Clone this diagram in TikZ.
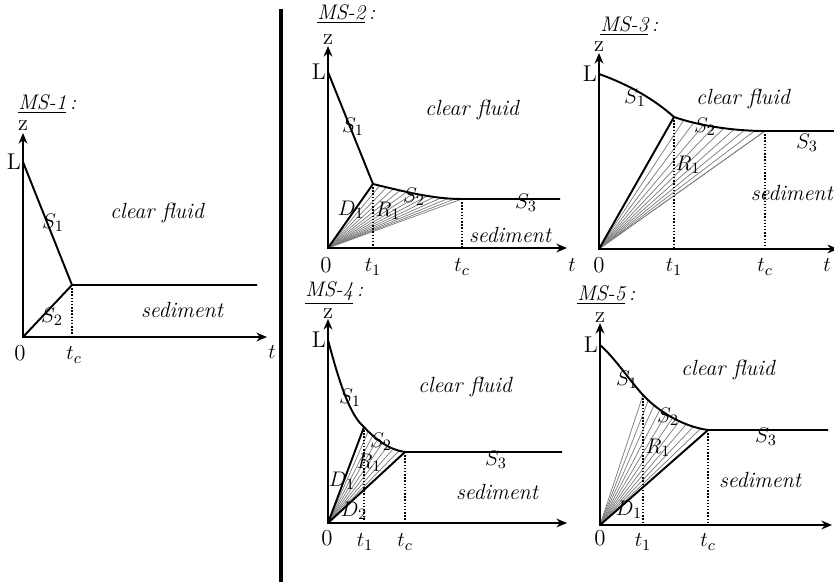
\documentclass[tikz,border=0pt]{standalone}
\usepackage{amsmath}
\usepackage{tikz}
\usetikzlibrary{arrows.meta,decorations.markings}
\definecolor{fanline}{HTML}{7A7A7A}

\begin{document}
\begin{tikzpicture}[x=0.02cm,y=-0.02cm,
  axis/.style={line width=1.6pt,{Stealth[length=6pt,width=5pt]}-{Stealth[length=6pt,width=5pt]}},
  front/.style={line width=1.1pt},
  fan/.style={fanline,line width=0.4pt},
  guide/.style={densely dotted,line width=0.8pt},
  lbl/.style={inner sep=1pt,font=\fontsize{13}{15}\selectfont},
  region/.style={font=\fontsize{12.5}{14}\selectfont\itshape},
  title/.style={anchor=base west,inner sep=0pt,font=\fontsize{12}{14}\selectfont\itshape},
  fanto/.style 2 args={postaction={decorate},
    decoration={markings,mark=between positions 0 and 1 step #2 with {\draw[fan] (0,0) -- (#1);}}}]
  \useasboundingbox (0,0) rectangle (834,582);
  \draw[line width=2.3pt] (281,9) coordinate (sepa) -- (281,582) coordinate (sepb);

  \coordinate (z1) at (23,133); \coordinate (o1) at (23,337); \coordinate (t1) at (267,337);
  \coordinate (l1) at (23,162); \coordinate (c1) at (72,285); \coordinate (e1) at (257,285);
  \draw[guide] (c1) -- (c1|-o1);
  \draw[front] (l1) -- (c1) -- (e1);
  \draw[front] (o1) -- (c1);
  \draw[axis] (z1) |- (t1);
  \node[title] (ms1) at (18,109) {\underline{MS-1}\,:};
  \node[lbl] (za) at (23,126) {z};
  \node[lbl,left] (la) at (l1) {L};
  \node[lbl] (oa) at (20,353) {0};
  \node[lbl] (tca) at (74,355) {$t_c$};
  \node[lbl] (ta) at (272,352) {$t$};
  \node[lbl] (s1a) at (53,223) {$S_1$};
  \node[lbl] (s2a) at (52,317) {$S_2$};
  \node[region] (cfa) at (157,213) {clear fluid};
  \node[region] (sda) at (182,310) {sediment};

  \coordinate (z2) at (328,46); \coordinate (o2) at (328,248); \coordinate (t2) at (567,248);
  \coordinate (l2) at (328,72); \coordinate (b2) at (373,184); \coordinate (c2) at (462,199); \coordinate (e2) at (560,199);
  \path[fanto={o2}{0.077}] (b2) .. controls (410,193) and (435,199) .. (c2);
  \draw[fan] (o2) -- (c2);
  \draw[guide] (b2) -- (b2|-o2); \draw[guide] (c2) -- (c2|-o2);
  \draw[front] (l2) -- (b2) .. controls (410,193) and (435,199) .. (c2) -- (e2);
  \draw[front] (o2) -- (b2);
  \draw[axis] (z2) |- (t2);
  \node[title] (ms2) at (317,19) {\underline{MS-2}\,:};
  \node[lbl] (zb) at (328,40) {z};
  \node[lbl,left] (lb) at (l2) {L};
  \node[lbl] (ob) at (326,265) {0};
  \node[lbl] (t1b) at (373,267) {$t_1$};
  \node[lbl] (tcb) at (462,267) {$t_c$};
  \node[lbl] (tb) at (572,265) {$t$};
  \node[lbl] (s1b) at (353,127) {$S_1$};
  \node[lbl] (s2b) at (414,197) {$S_2$};
  \node[lbl] (s3b) at (526,203) {$S_3$};
  \node[lbl] (d1b) at (351,210) {$D_1$};
  \node[lbl] (r1b) at (388,211) {$R_1$};
  \node[region] (cfb) at (472,110) {clear fluid};
  \node[region] (sdb) at (510,235) {sediment};

  \coordinate (z3) at (599,53); \coordinate (o3) at (599,249); \coordinate (t3) at (838,249);
  \coordinate (l3) at (599,74); \coordinate (b3) at (674,117); \coordinate (c3) at (765,131); \coordinate (e3) at (834,131);
  \path[fanto={o3}{0.111}] (b3) .. controls (700,126) and (735,131) .. (c3);
  \draw[fan] (o3) -- (c3);
  \draw[guide] (b3) -- (b3|-o3); \draw[guide] (c3) -- (c3|-o3);
  \draw[front] (l3) .. controls (630,85) and (655,100) .. (b3) .. controls (700,126) and (735,131) .. (c3) -- (e3);
  \draw[front] (o3) -- (b3);
  \draw[axis] (z3) |- (t3);
  \node[title] (ms3) at (600,31) {\underline{MS-3}\,:};
  \node[lbl] (zc) at (599,47) {z};
  \node[lbl,left] (lc) at (l3) {L};
  \node[lbl] (oc) at (599,265) {0};
  \node[lbl] (t1c) at (674,267) {$t_1$};
  \node[lbl] (tcc) at (765,267) {$t_c$};
  \node[lbl] (tc) at (827,265) {$t$};
  \node[lbl] (s1c) at (635,98) {$S_1$};
  \node[lbl] (s2c) at (705,127) {$S_2$};
  \node[lbl] (s3c) at (807,143) {$S_3$};
  \node[lbl] (r1c) at (688,165) {$R_1$};
  \node[region] (cfc) at (743,99) {clear fluid};
  \node[region,anchor=east,inner sep=0pt] (sdc) at (833,193) {sediment};

  \coordinate (z4) at (328,319); \coordinate (o4) at (328,523); \coordinate (t4) at (567,523);
  \coordinate (l4) at (328,340); \coordinate (b4) at (364,427); \coordinate (c4) at (405,452); \coordinate (e4) at (562,452);
  \path[fanto={o4}{0.125}] (b4) .. controls (376,440) and (390,450) .. (c4);
  \draw[guide] (b4) -- (b4|-o4); \draw[guide] (c4) -- (c4|-o4);
  \draw[front] (l4) .. controls (340,385) and (350,415) .. (b4) .. controls (376,440) and (390,450) .. (c4) -- (e4);
  \draw[front] (o4) -- (b4);
  \draw[front] (o4) -- (c4);
  \draw[axis] (z4) |- (t4);
  \node[title] (ms4) at (305,296) {\underline{MS-4}\,:};
  \node[lbl] (zd) at (328,314) {z};
  \node[lbl,left] (ld) at (l4) {L};
  \node[lbl] (od) at (327,538) {0};
  \node[lbl] (t1d) at (365,542) {$t_1$};
  \node[lbl] (tcd) at (405,542) {$t_c$};
  \node[lbl] (s1d) at (350,398) {$S_1$};
  \node[lbl] (s2d) at (381,442) {$S_2$};
  \node[lbl] (s3d) at (496,460) {$S_3$};
  \node[lbl] (r1d) at (369,463) {$R_1$};
  \node[lbl] (d1d) at (342,481) {$D_1$};
  \node[lbl] (d2d) at (354,511) {$D_2$};
  \node[region] (cfd) at (465,387) {clear fluid};
  \node[region] (sdd) at (497,492) {sediment};

  \coordinate (z5) at (600,323); \coordinate (o5) at (600,525); \coordinate (t5) at (832,525);
  \coordinate (l5) at (600,345); \coordinate (b5) at (643,395); \coordinate (c5) at (708,430); \coordinate (e5) at (828,430);
  \path[fanto={o5}{0.1}] (b5) .. controls (656,409) and (680,426) .. (c5);
  \draw[guide] (b5) -- (b5|-o5); \draw[guide] (c5) -- (c5|-o5);
  \draw[front] (l5) .. controls (615,358) and (630,381) .. (b5) .. controls (656,409) and (680,426) .. (c5) -- (e5);
  \draw[front] (o5) -- (c5);
  \draw[axis] (z5) |- (t5);
  \node[title] (ms5) at (577,300) {\underline{MS-5}\,:};
  \node[lbl] (ze) at (600,318) {z};
  \node[lbl,left] (le) at (l5) {L};
  \node[lbl] (oe) at (600,538) {0};
  \node[lbl] (t1e) at (643,542) {$t_1$};
  \node[lbl] (tce) at (708,542) {$t_c$};
  \node[lbl] (s1e) at (627,380) {$S_1$};
  \node[lbl] (s2e) at (668,417) {$S_2$};
  \node[lbl] (s3e) at (766,437) {$S_3$};
  \node[lbl] (r1e) at (658,448) {$R_1$};
  \node[lbl] (d1e) at (629,510) {$D_1$};
  \node[region] (cfe) at (728,370) {clear fluid};
  \node[region] (sde) at (760,480) {sediment};
\end{tikzpicture}
\end{document}
